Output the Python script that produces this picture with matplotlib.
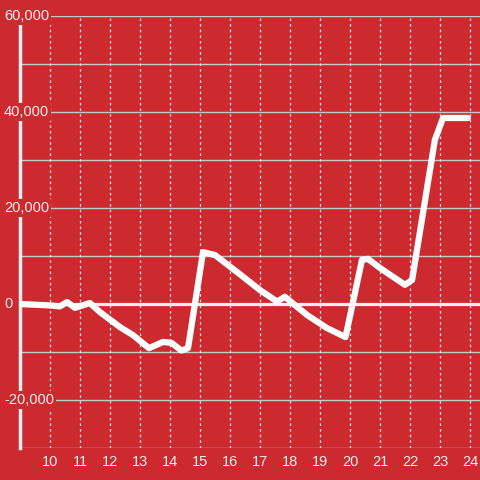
import matplotlib
matplotlib.use('Agg')
import matplotlib.pyplot as plt
import matplotlib.transforms as mtransforms

# hour of day vs cumulative value
hours = [9.0, 10.0, 10.33, 10.57, 10.83, 11.33, 11.67, 12.33, 12.77, 13.3,
         13.77, 14.05, 14.38, 14.6, 15.1, 15.5, 16.33, 17.0, 17.57, 17.83,
         18.57, 19.23, 19.85, 20.4, 20.6, 21.0, 21.83, 22.07, 22.83, 23.1, 23.93]
values = [0, -300, -500, 400, -800, 200, -1700, -4800, -6500, -9200,
          -7900, -8100, -9700, -9200, 10800, 10200, 6200, 2900, 500, 1500,
          -2300, -5000, -6900, 9200, 9400, 7500, 4000, 5000, 34200, 38750, 38750]

xticks = list(range(10, 25))
yticks = [-20000, 0, 20000, 40000, 60000]
ylabels = ['-20,000', '0', '20,000', '40,000', '60,000']
hlines = [-30000, -20000, -10000, 10000, 20000, 30000, 40000, 50000, 60000]

bg = '#cc2a2f'
fg = '#f0f0f0'
plt.rcParams['font.family'] = ['Liberation Sans', 'DejaVu Sans']

fig = plt.figure(figsize=(4.8, 4.8), dpi=100, facecolor=bg)
ax = fig.add_axes([20/480, 32/480, 1 - 20/480, 432/480])
ax.set_facecolor(bg)
ax.set_xlim(9, 9 + 460/30)
ax.set_ylim(-30000, 60000)

for h in hlines:
    ax.axhline(h, color='#c8c8c8', lw=1.0, zorder=1)
for x in xticks:
    ax.axvline(x, color='#e6e6e6', lw=0.9, ls=(0, (2, 2.5)), zorder=1)
ax.axhline(0, color=fg, lw=2.3, zorder=2)

ax.plot(hours, values, color='white', lw=4.5, solid_joinstyle='round',
        solid_capstyle='round', zorder=5)

for s in ['top', 'right', 'bottom']:
    ax.spines[s].set_visible(False)
ax.spines['left'].set_color(fg)
ax.spines['left'].set_linewidth(2.5)

ax.set_xticks(xticks)
ax.set_xticklabels([str(x) for x in xticks], color=fg, fontsize=10.5)
ax.tick_params(axis='x', length=0, pad=5)
ax.set_yticks([])

trans = mtransforms.blended_transform_factory(fig.transFigure, ax.transData)
for v, lab in zip(yticks, ylabels):
    ax.text(4/480, v, lab, transform=trans, ha='left', va='center',
            color=fg, fontsize=10.5, clip_on=False, zorder=10,
            bbox=dict(facecolor=bg, edgecolor='none', pad=1.5))

fig.savefig('out.png', dpi=100, facecolor=bg)
